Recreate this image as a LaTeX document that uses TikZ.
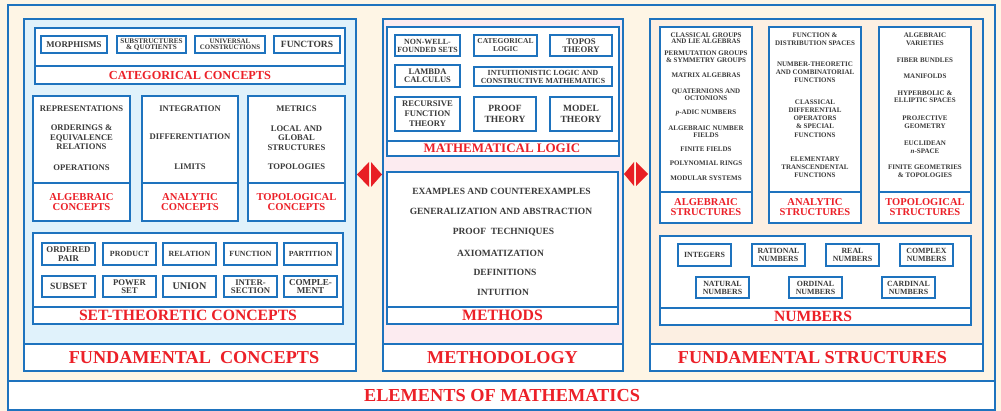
\documentclass[tikz,border=0pt]{standalone}
\usepackage{fontspec}
\setmainfont{Liberation Serif}
\definecolor{rimblue}{RGB}{30,115,190}
\definecolor{headred}{RGB}{236,32,40}
\definecolor{ink}{RGB}{58,58,58}
\definecolor{cream}{RGB}{254,245,229}
\definecolor{bluefill}{RGB}{224,242,251}
\definecolor{pinkfill}{RGB}{252,235,240}
\definecolor{peachfill}{RGB}{252,239,226}
\definecolor{tipred}{RGB}{232,30,36}
\newcommand\fsz[2]{\fontsize{#1}{#2}\selectfont\bfseries}

\begin{document}
\begin{tikzpicture}[x=1pt,y=-1pt,
  panel/.style={draw=rimblue,line width=1.4pt},
  box/.style={draw=rimblue,fill=white,line width=1.1pt},
  rule/.style={draw=rimblue,line width=1.1pt},
  item/.style={draw=rimblue,fill=white,line width=1.1pt,inner sep=0pt,align=center,text=ink},
  head/.style={text=headred,align=center,inner sep=0pt},
  txt/.style={text=ink,align=center,inner sep=0pt}]

  \fill[cream] (0,0) rectangle (1001,411);
  \useasboundingbox (0,0) rectangle (1001,411);
  \draw[panel] (8,5) rectangle (995,410);

  % fundamental concepts
  \draw[panel,fill=bluefill] (24,19) rectangle (356,344);
  \draw[panel,fill=white] (24,344) rectangle (356,371);
  \node[head,font=\fsz{18.2}{20}] (fcon) at (194,357.5) {FUNDAMENTAL~~CONCEPTS};

  \draw[box] (35,28) rectangle (345,84);
  \draw[rule] (35,66) -- (345,66);
  \node[head,font=\fsz{12.3}{14}] (catlab) at (190,75) {CATEGORICAL CONCEPTS};
  \node[item,minimum width=66,minimum height=17,font=\fsz{8.8}{9}] (morph) at (74,44.5) {MORPHISMS};
  \node[item,minimum width=69,minimum height=17,font=\fsz{7.2}{6.5}] (subq) at (151.5,44.5) {SUBSTRUCTURES\\\& QUOTIENTS};
  \node[item,minimum width=70,minimum height=17,font=\fsz{6.9}{6.5}] (univ) at (230,44.5) {UNIVERSAL\\CONSTRUCTIONS};
  \node[item,minimum width=66,minimum height=17,font=\fsz{9.5}{10}] (functor) at (307,44.5) {FUNCTORS};

  \foreach \a/\b in {33/130,142/238,248/345} {
    \draw[box] (\a,96) rectangle (\b,221);
    \draw[rule] (\a,183) -- (\b,183);
  }
  \node[txt,font=\fsz{8.6}{9.5}] (repr) at (81.5,109) {REPRESENTATIONS};
  \node[txt,font=\fsz{8.6}{9.5}] (order) at (81.5,137.5) {ORDERINGS \&\\EQUIVALENCE\\RELATIONS};
  \node[txt,font=\fsz{8.6}{9.5}] (oper) at (81.5,168) {OPERATIONS};
  \node[head,font=\fsz{10.6}{10}] (alglab) at (81.5,202) {ALGEBRAIC\\CONCEPTS};
  \node[txt,font=\fsz{8.6}{9.5}] (integ) at (190,109) {INTEGRATION};
  \node[txt,font=\fsz{8.6}{9.5}] (diff) at (190,137) {DIFFERENTIATION};
  \node[txt,font=\fsz{8.6}{9.5}] (limits) at (190,167) {LIMITS};
  \node[head,font=\fsz{10.6}{10}] (analab) at (190,202) {ANALYTIC\\CONCEPTS};
  \node[txt,font=\fsz{8.6}{9.5}] (metric) at (296.5,109) {METRICS};
  \node[txt,font=\fsz{8.6}{9.5}] (local) at (296.5,138) {LOCAL AND\\GLOBAL\\STRUCTURES};
  \node[txt,font=\fsz{8.6}{9.5}] (topol) at (296.5,167) {TOPOLOGIES};
  \node[head,font=\fsz{10.6}{10}] (toplab) at (296.5,202) {TOPOLOGICAL\\CONCEPTS};

  \draw[box] (33,233) rectangle (343,324);
  \draw[rule] (33,307) -- (343,307);
  \node[head,font=\fsz{15.7}{17}] (setlab) at (188,315.5) {SET-THEORETIC CONCEPTS};
  \node[item,minimum width=53,minimum height=22,font=\fsz{8.8}{8.5}] (opair) at (68.5,254) {ORDERED\\PAIR};
  \node[item,minimum width=53,minimum height=22,font=\fsz{7.9}{8.5}] (prod) at (129.5,254) {PRODUCT};
  \node[item,minimum width=53,minimum height=22,font=\fsz{7.9}{8.5}] (rel) at (189.5,254) {RELATION};
  \node[item,minimum width=53,minimum height=22,font=\fsz{7.9}{8.5}] (func) at (250.5,254) {FUNCTION};
  \node[item,minimum width=53,minimum height=22,font=\fsz{7.8}{8.5}] (part) at (310.5,254) {PARTITION};
  \node[item,minimum width=53,minimum height=21,font=\fsz{9.6}{8.5}] (subset) at (68.5,286.5) {SUBSET};
  \node[item,minimum width=53,minimum height=21,font=\fsz{8.7}{8.5}] (power) at (129.5,286.5) {POWER\\SET};
  \node[item,minimum width=53,minimum height=21,font=\fsz{10.2}{8.5}] (union) at (189.5,286.5) {UNION};
  \node[item,minimum width=53,minimum height=21,font=\fsz{8.7}{8.5}] (inter) at (250.5,286.5) {INTER-\\SECTION};
  \node[item,minimum width=53,minimum height=21,font=\fsz{9.1}{8.5}] (compl) at (310.5,286.5) {COMPLE-\\MENT};

  % methodology
  \draw[panel,fill=pinkfill] (383,19) rectangle (623,344);
  \draw[panel,fill=white] (383,344) rectangle (623,371);
  \node[head,font=\fsz{18.2}{20}] (meth) at (502.5,357.5) {METHODOLOGY};

  \draw[box] (387,27) rectangle (619,156);
  \draw[rule] (387,141) -- (619,141);
  \node[head,font=\fsz{13}{14}] (loglab) at (502,148.5) {MATHEMATICAL LOGIC};
  \node[item,minimum width=65,minimum height=21,font=\fsz{7.9}{8}] (nwf) at (427.5,45.5) {NON-WELL-\\FOUNDED SETS};
  \node[item,minimum width=63,minimum height=21,font=\fsz{7.5}{8}] (catlog) at (505.5,45.5) {CATEGORICAL\\LOGIC};
  \node[item,minimum width=62,minimum height=21,font=\fsz{8.7}{8}] (topos) at (581,45.5) {TOPOS\\THEORY};
  \node[item,minimum width=65,minimum height=22,font=\fsz{8.5}{8}] (lambda) at (427.5,76) {LAMBDA\\CALCULUS};
  \node[item,minimum width=138,minimum height=19,font=\fsz{7.8}{8}] (intu) at (543,76.5) {INTUITIONISTIC LOGIC AND\\CONSTRUCTIVE MATHEMATICS};
  \node[item,minimum width=65,minimum height=34,font=\fsz{8.6}{10}] (recur) at (427.5,114) {RECURSIVE\\FUNCTION\\THEORY};
  \node[item,minimum width=62,minimum height=34,font=\fsz{9.5}{10.7}] (proof) at (505,114) {PROOF\\THEORY};
  \node[item,minimum width=62,minimum height=34,font=\fsz{9.5}{10.7}] (model) at (581,114) {MODEL\\THEORY};

  \draw[box] (387,172) rectangle (618,324);
  \draw[rule] (387,307) -- (618,307);
  \node[head,font=\fsz{15.8}{17}] (methlab) at (502.5,315.5) {METHODS};
  \node[txt,font=\fsz{9.5}{10}] (excount) at (501.5,191) {EXAMPLES AND COUNTEREXAMPLES};
  \node[txt,font=\fsz{9.5}{10}] (genabs) at (501,211) {GENERALIZATION AND ABSTRACTION};
  \node[txt,font=\fsz{9.5}{10}] (prooft) at (503.5,232) {PROOF~~TECHNIQUES};
  \node[txt,font=\fsz{9.5}{10}] (axiom) at (500.5,253) {AXIOMATIZATION};
  \node[txt,font=\fsz{9.5}{10}] (defin) at (505,272) {DEFINITIONS};
  \node[txt,font=\fsz{9.5}{10}] (intuit) at (503,292) {INTUITION};

  % fundamental structures
  \draw[panel,fill=peachfill] (650,19) rectangle (983,344);
  \draw[panel,fill=white] (650,344) rectangle (983,371);
  \node[head,font=\fsz{18.2}{20}] (fstr) at (812.5,357.5) {FUNDAMENTAL STRUCTURES};

  \foreach \a/\b in {660/752,769/861,879/971} {
    \draw[box] (\a,27) rectangle (\b,223);
    \draw[rule] (\a,192) -- (\b,192);
  }
  \node[txt,font=\fsz{7}{6.5}] (liealg) at (706,38) {CLASSICAL GROUPS\\AND LIE ALGEBRAS};
  \node[txt,font=\fsz{7}{7}] (permgr) at (706,57) {PERMUTATION GROUPS\\\& SYMMETRY GROUPS};
  \node[txt,font=\fsz{7}{7}] (matrix) at (706,75) {MATRIX ALGEBRAS};
  \node[txt,font=\fsz{7}{7}] (quat) at (706,94.5) {QUATERNIONS AND\\OCTONIONS};
  \node[txt,font=\fsz{7}{7}] (padic) at (706,113) {\textit{p}-ADIC NUMBERS};
  \node[txt,font=\fsz{7}{6.5}] (numfld) at (706,131.5) {ALGEBRAIC NUMBER\\FIELDS};
  \node[txt,font=\fsz{7}{7}] (finfld) at (706,149) {FINITE FIELDS};
  \node[txt,font=\fsz{7}{7}] (poly) at (706,163) {POLYNOMIAL RINGS};
  \node[txt,font=\fsz{7}{7}] (modsys) at (706,178) {MODULAR SYSTEMS};
  \node[head,font=\fsz{10.5}{10}] (astrlab) at (706,207) {ALGEBRAIC\\STRUCTURES};

  \node[txt,font=\fsz{7}{7.5}] (distsp) at (815,39) {FUNCTION \&\\DISTRIBUTION SPACES};
  \node[txt,font=\fsz{7}{8}] (numth) at (815,72) {NUMBER-THEORETIC\\AND COMBINATORIAL\\FUNCTIONS};
  \node[txt,font=\fsz{7}{8.2}] (diffop) at (815,118.5) {CLASSICAL\\DIFFERENTIAL\\OPERATORS\\\& SPECIAL\\FUNCTIONS};
  \node[txt,font=\fsz{7}{8}] (transc) at (815,167) {ELEMENTARY\\TRANSCENDENTAL\\FUNCTIONS};
  \node[head,font=\fsz{10.5}{10}] (anstrlab) at (815,207) {ANALYTIC\\STRUCTURES};

  \node[txt,font=\fsz{7}{7.5}] (variety) at (925,39) {ALGEBRAIC\\VARIETIES};
  \node[txt,font=\fsz{7}{7.5}] (fiber) at (925,60) {FIBER BUNDLES};
  \node[txt,font=\fsz{7}{7.5}] (manif) at (925,76) {MANIFOLDS};
  \node[txt,font=\fsz{7}{7}] (hyper) at (925,96.5) {HYPERBOLIC \&\\ELLIPTIC SPACES};
  \node[txt,font=\fsz{7}{7.5}] (proj) at (925,122) {PROJECTIVE\\GEOMETRY};
  \node[txt,font=\fsz{7}{7.5}] (eucl) at (925,147) {EUCLIDEAN\\\textit{n}-SPACE};
  \node[txt,font=\fsz{7}{7.5}] (fingeo) at (925,171) {FINITE GEOMETRIES\\\& TOPOLOGIES};
  \node[head,font=\fsz{10.5}{10}] (tstrlab) at (925,207) {TOPOLOGICAL\\STRUCTURES};

  \draw[box] (660,236) rectangle (971,325);
  \draw[rule] (660,308) -- (971,308);
  \node[head,font=\fsz{15.6}{17}] (numlab) at (813,316.5) {NUMBERS};
  \node[item,minimum width=53,minimum height=22,font=\fsz{7.9}{8}] (ints) at (704.5,255) {INTEGERS};
  \node[item,minimum width=53,minimum height=22,font=\fsz{7.9}{8}] (rats) at (778.5,255) {RATIONAL\\NUMBERS};
  \node[item,minimum width=53,minimum height=22,font=\fsz{7.9}{8}] (reals) at (852.5,255) {REAL\\NUMBERS};
  \node[item,minimum width=53,minimum height=22,font=\fsz{7.9}{8}] (cplx) at (926.5,255) {COMPLEX\\NUMBERS};
  \node[item,minimum width=53,minimum height=21,font=\fsz{7.9}{8}] (nats) at (722.5,287.5) {NATURAL\\NUMBERS};
  \node[item,minimum width=53,minimum height=21,font=\fsz{7.9}{8}] (ords) at (815.5,287.5) {ORDINAL\\NUMBERS};
  \node[item,minimum width=53,minimum height=21,font=\fsz{7.9}{8}] (cards) at (908.5,287.5) {CARDINAL\\NUMBERS};

  % double arrows between panels
  \fill[tipred] (357,174.5) -- (369,162) -- (369,187) -- cycle;
  \fill[tipred] (382,174.5) -- (371,162) -- (371,187) -- cycle;
  \fill[tipred] (624,174) -- (634,162) -- (634,186) -- cycle;
  \fill[tipred] (648,174) -- (636,162) -- (636,186) -- cycle;

  % bottom bar
  \draw[panel,fill=white] (8,381) rectangle (995,410);
  \node[head,font=\fsz{18.3}{20}] (elem) at (502,395.5) {ELEMENTS OF MATHEMATICS};
\end{tikzpicture}
\end{document}
